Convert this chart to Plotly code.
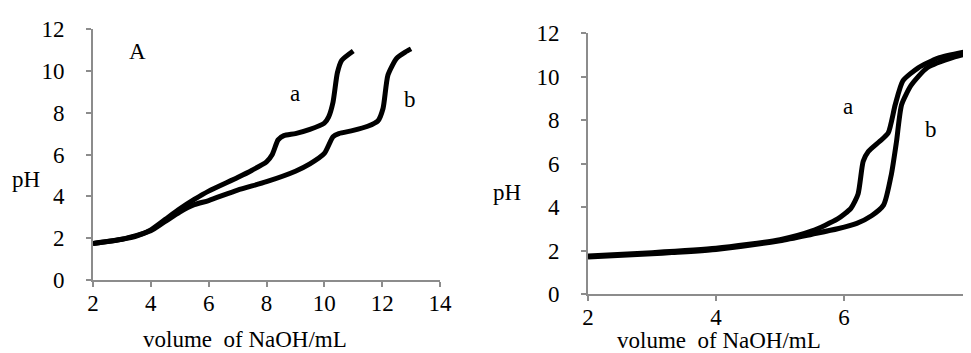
import plotly.graph_objects as go

# Left panel (A)
left_a_x = [2, 3, 3.5, 4, 4.5, 5, 5.5, 6, 7, 7.5, 8, 8.2, 8.4, 8.6, 9, 9.5, 10, 10.15, 10.3, 10.45, 10.6, 11]
left_a_y = [1.75, 1.95, 2.1, 2.4, 2.9, 3.4, 3.85, 4.25, 4.9, 5.25, 5.65, 6.0, 6.7, 6.9, 7.0, 7.2, 7.5, 7.8, 8.5, 9.9, 10.5, 10.95]
left_b_x = [2, 3, 4, 4.5, 5, 5.5, 6, 7, 8, 9, 9.5, 10, 10.3, 10.5, 11, 11.5, 11.85, 12.03, 12.2, 12.5, 12.8, 13]
left_b_y = [1.75, 1.95, 2.35, 2.8, 3.25, 3.6, 3.8, 4.3, 4.7, 5.2, 5.55, 6.05, 6.85, 7.0, 7.15, 7.35, 7.6, 8.2, 9.8, 10.6, 10.9, 11.05]

# Right panel
right_a_x = [2, 3, 4, 5, 5.5, 5.9, 6.11, 6.22, 6.3, 6.38, 6.55, 6.69, 6.8, 6.92, 7.16, 7.47, 8]
right_a_y = [1.75, 1.9, 2.1, 2.5, 2.9, 3.45, 3.95, 4.6, 6.1, 6.55, 7.0, 7.4, 8.7, 9.8, 10.4, 10.85, 11.2]
right_b_x = [2, 3, 4, 5, 5.5, 5.9, 6.2, 6.43, 6.62, 6.74, 6.82, 6.9, 7.05, 7.3, 7.73, 8]
right_b_y = [1.7, 1.85, 2.05, 2.45, 2.75, 3.0, 3.25, 3.6, 4.1, 5.5, 7.0, 8.7, 9.6, 10.4, 10.9, 11.1]

x_ticks_left = [2, 4, 6, 8, 10, 12, 14]
x_ticks_right = [2, 4, 6, 8]
y_ticks = [0, 2, 4, 6, 8, 10, 12]

FONT = "Liberation Serif"
FS = 23
line = dict(color="black", width=5, shape="spline", smoothing=0.6)

fig = go.Figure()
fig.add_trace(go.Scatter(x=left_a_x, y=left_a_y, mode="lines", line=line, xaxis="x", yaxis="y"))
fig.add_trace(go.Scatter(x=left_b_x, y=left_b_y, mode="lines", line=line, xaxis="x", yaxis="y"))
fig.add_trace(go.Scatter(x=right_a_x, y=right_a_y, mode="lines", line=line, xaxis="x2", yaxis="y2"))
fig.add_trace(go.Scatter(x=right_b_x, y=right_b_y, mode="lines", line=line, xaxis="x2", yaxis="y2"))

axis_common = dict(showgrid=False, zeroline=False, showline=True, linecolor="#8c8c8c", linewidth=2,
                   ticks="outside", ticklen=5, tickwidth=2, tickcolor="#8c8c8c",
                   tickfont=dict(family=FONT, size=FS, color="black"), automargin=False)

fig.update_layout(
    width=971, height=353,
    margin=dict(l=0, r=0, t=0, b=0),
    paper_bgcolor="white", plot_bgcolor="white",
    showlegend=False,
    xaxis=dict(domain=[85/971, 432/971], range=[2, 14], tickvals=x_ticks_left, anchor="y",
               ticklabelstandoff=-4, **axis_common),
    yaxis=dict(domain=[1-272/353, 1-21/353], range=[0, 12], tickvals=y_ticks, anchor="x",
               ticklabelstandoff=17, **axis_common),
    xaxis2=dict(domain=[580/971, 964/971], range=[2, 8], tickvals=x_ticks_right, anchor="y2",
                ticklabelstandoff=-4, **axis_common),
    yaxis2=dict(domain=[1-286/353, 1-25/353], range=[0, 12], tickvals=y_ticks, anchor="x2",
                ticklabelstandoff=17, **axis_common),
)

ann_font = dict(family=FONT, size=FS, color="black")
common = dict(showarrow=False, font=ann_font, xanchor="center", yanchor="middle", xshift=-8, yshift=9)
annotations = [
    dict(text="A", x=3.8, y=10.5, xref="x", yref="y", **common),
    dict(text="a", x=9.27, y=8.5, xref="x", yref="y", **common),
    dict(text="b", x=13.25, y=8.2, xref="x", yref="y", **common),
    dict(text="a", x=6.19, y=8.2, xref="x2", yref="y2", **common),
    dict(text="b", x=7.48, y=7.15, xref="x2", yref="y2", **common),
    dict(text="pH", x=26/971, y=1-180/353, xref="paper", yref="paper", **common),
    dict(text="pH", x=507/971, y=1-193/353, xref="paper", yref="paper", **common),
    dict(text="volume  of NaOH/mL", x=245/971, y=1-340/353, xref="paper", yref="paper", **common),
    dict(text="volume  of NaOH/mL", x=719/971, y=1-341/353, xref="paper", yref="paper", **common),
]
fig.update_layout(annotations=annotations)

fig.write_html("out.html")
